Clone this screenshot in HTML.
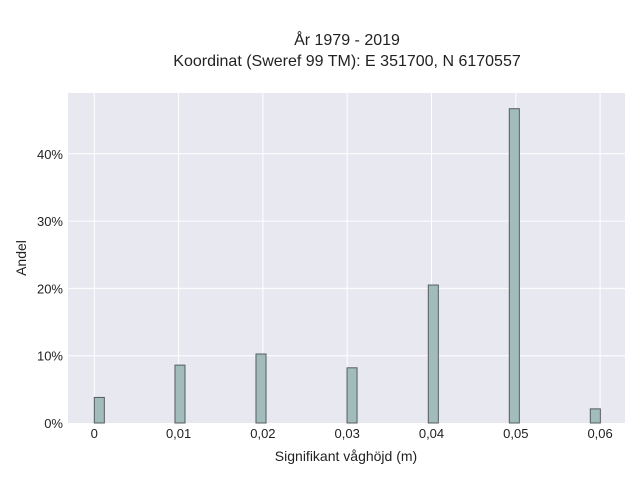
<!DOCTYPE html>
<html><head><meta charset="utf-8"><style>
body{margin:0;background:#fff;font-family:"Liberation Sans",sans-serif;}
text{font-family:"Liberation Sans",sans-serif;fill:#222;}
</style></head><body>
<svg id="chart" width="640" height="480" xmlns="http://www.w3.org/2000/svg">
<rect x="0" y="0" width="640" height="480" fill="#fff"/>
<text x="347" y="45" text-anchor="middle" font-size="16">År 1979 - 2019</text>
<text x="347" y="66" text-anchor="middle" font-size="16">Koordinat (Sweref 99 TM): E 351700, N 6170557</text>
<rect x="68" y="93" width="557" height="330" fill="#e8e8f0"/>
<g id="grid"></g>
<g id="bars"></g>
<g id="xticks"></g>
<g id="yticks"></g>
<text x="346" y="461" text-anchor="middle" font-size="14">Signifikant våghöjd (m)</text>
<text x="26" y="258" text-anchor="middle" font-size="14" transform="rotate(-90 26 258)">Andel</text>
</svg>
<script>
const binStarts=[0,0.00957,0.01918,0.02998,0.03962,0.04923,0.05884];
const shares=[3.8,8.6,10.25,8.2,20.5,46.7,2.1];
const binWidth=0.00119;
const xTicks=[0,0.01,0.02,0.03,0.04,0.05,0.06];
const xTickLabels=["0","0,01","0,02","0,03","0,04","0,05","0,06"];
const yTicks=[0,10,20,30,40];
const yTickLabels=["0%","10%","20%","30%","40%"];
const NS="http://www.w3.org/2000/svg";
const X=v=>94.3+v*8430;
const Y=v=>423-v*6.73;
const grid=document.getElementById('grid'),bars=document.getElementById('bars'),xt=document.getElementById('xticks'),yt=document.getElementById('yticks');
function mk(tag,attrs,parent){const e=document.createElementNS(NS,tag);for(const k in attrs)e.setAttribute(k,attrs[k]);parent.appendChild(e);return e;}
xTicks.forEach((v,i)=>{
const l=mk('line',{x1:X(v),x2:X(v),y1:93,y2:423,stroke:'#fff','stroke-width':1},grid);


const t=mk('text',{x:X(v),y:438,'text-anchor':'middle','font-size':13},xt);
t.textContent=xTickLabels[i];


});
yTicks.forEach((v,i)=>{
if(v>0){const l=mk('line',{x1:68,x2:625,y1:Y(v),y2:Y(v),stroke:'#fff','stroke-width':1},grid);

}
const t=mk('text',{x:63,y:Y(v)+5,'text-anchor':'end','font-size':13},yt);
t.textContent=yTickLabels[i];


});
binStarts.forEach((s,i)=>{
const x0=X(s),x1=X(s+binWidth),y=Y(shares[i]);
const r=mk('rect',{x:x0,y:y,width:x1-x0,height:423-y,fill:'#a2bcbc',stroke:'#555d5d','stroke-width':1},bars);


});
</script>
</body></html>
